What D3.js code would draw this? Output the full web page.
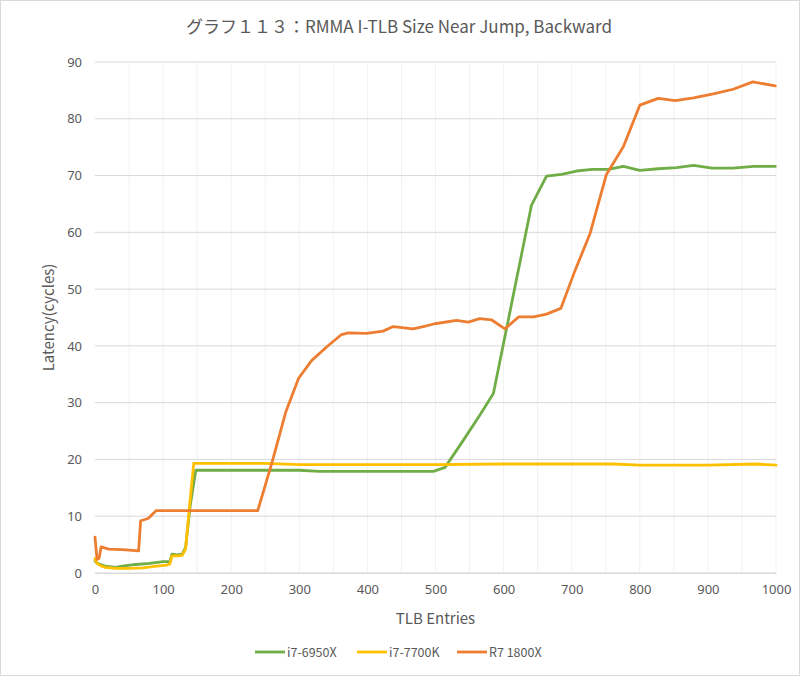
<!DOCTYPE html>
<html>
<head>
<meta charset="utf-8">
<script src="https://cdn.jsdelivr.net/npm/d3@7"></script>
<style>
  body { margin: 0; background: #fff; }
  text { font-family: "Noto Sans CJK JP", "Noto Sans", sans-serif; fill: #595959; }
</style>
</head>
<body>
<script>
// TLB entries / latency (cycles)
const seriesNames = ["i7-6950X", "i7-7700K", "R7 1800X"];
const seriesColors = ["#70ad47", "#ffc000", "#ed7d31"];

const i7_6950X_x = [0, 5, 15, 30, 40, 60, 80, 100, 110, 113, 120, 128, 133, 140, 148, 200, 300, 330, 497, 514, 541, 565, 585, 641, 663, 685, 707, 730, 754, 776, 800, 827, 854, 879, 906, 937, 967, 999];
const i7_6950X_y = [2.1, 1.6, 1.2, 1.0, 1.2, 1.5, 1.7, 2.0, 2.0, 3.3, 3.2, 3.3, 4.5, 12, 18.1, 18.1, 18.1, 17.9, 17.9, 18.6, 23.4, 27.8, 31.6, 64.8, 69.9, 70.2, 70.8, 71.1, 71.1, 71.6, 70.9, 71.2, 71.4, 71.8, 71.3, 71.3, 71.6, 71.6];

const i7_7700K_x = [0, 3, 8, 15, 30, 50, 70, 90, 105, 110, 113, 120, 128, 133, 139, 145, 200, 250, 300, 500, 600, 700, 760, 800, 900, 970, 1000];
const i7_7700K_y = [2.5, 1.7, 1.3, 1.0, 0.8, 0.8, 0.9, 1.2, 1.4, 1.6, 3.0, 3.0, 3.1, 4.2, 12, 19.3, 19.3, 19.3, 19.1, 19.1, 19.2, 19.2, 19.2, 19.0, 19.0, 19.2, 19.0];

const r7_1800X_x = [0, 3, 6, 9, 20, 40, 64, 67, 78, 90, 150, 239, 260, 280, 299, 318, 340, 362, 372, 399, 423, 438, 467, 482, 499, 531, 548, 565, 582, 602, 622, 644, 663, 684, 705, 727, 751, 776, 800, 827, 852, 879, 908, 937, 966, 999];
const r7_1800X_y = [6.3, 2.4, 2.6, 4.6, 4.2, 4.1, 3.9, 9.2, 9.6, 11.0, 11.0, 11.0, 19.5, 28.3, 34.3, 37.4, 39.8, 42.0, 42.3, 42.2, 42.6, 43.4, 43.0, 43.4, 43.9, 44.5, 44.2, 44.8, 44.6, 43.0, 45.1, 45.1, 45.6, 46.6, 53.3, 59.8, 70.2, 75.1, 82.4, 83.6, 83.2, 83.7, 84.4, 85.2, 86.5, 85.8];

const xTicks = [0, 100, 200, 300, 400, 500, 600, 700, 800, 900, 1000];
const xMinor = [50, 150, 250, 350, 450, 550, 650, 750, 850, 950];
const yTicks = [0, 10, 20, 30, 40, 50, 60, 70, 80, 90];

const width = 800, height = 676;
const plotLeft = 95, plotRight = 776, plotTop = 62, plotBottom = 573;

var svg = d3.select("body").append("svg")
            .attr("width", width)
            .attr("height", height);

svg.append("rect")
   .attr("x", 0.5).attr("y", 0.5)
   .attr("width", width - 1).attr("height", height - 1)
   .attr("fill", "#fff")
   .attr("stroke", "#d9d9d9");

var x = d3.scaleLinear().domain([0, 1000]).range([plotLeft, plotRight]);
var y = d3.scaleLinear().domain([0, 90]).range([plotBottom, plotTop]);

// faint vertical minor grid
svg.append("g").selectAll("line")
   .data(xMinor.concat(xTicks.slice(1)))
   .enter().append("line")
   .attr("x1", d => x(d)).attr("x2", d => x(d))
   .attr("y1", plotTop).attr("y2", plotBottom)
   .attr("stroke", "#f2f2f2");

// horizontal grid
svg.append("g").selectAll("line")
   .data(yTicks)
   .enter().append("line")
   .attr("x1", plotLeft).attr("x2", plotRight)
   .attr("y1", d => y(d)).attr("y2", d => y(d))
   .attr("stroke", "#d9d9d9");

var xAxis = svg.append("g")
               .attr("transform", "translate(0," + plotBottom + ")")
               .call(d3.axisBottom(x).tickValues(xTicks).tickFormat(d3.format("d"))
                       .tickSize(0).tickPadding(12));
xAxis.select(".domain").attr("stroke", "#d9d9d9");
xAxis.selectAll("text").attr("font-size", 13).attr("fill", "#595959")
     .style("font-family", "'Noto Sans', sans-serif");

var yAxis = svg.append("g")
               .attr("transform", "translate(" + plotLeft + ",0)")
               .call(d3.axisLeft(y).tickValues(yTicks).tickSize(0).tickPadding(13));
yAxis.select(".domain").remove();
yAxis.selectAll("text").attr("font-size", 13).attr("fill", "#595959")
     .style("font-family", "'Noto Sans', sans-serif");

var series = [
  { xs: i7_6950X_x, ys: i7_6950X_y },
  { xs: i7_7700K_x, ys: i7_7700K_y },
  { xs: r7_1800X_x, ys: r7_1800X_y }
];

var line = d3.line()
             .x(d => x(d[0]))
             .y(d => y(d[1]));

svg.append("g").selectAll("path")
   .data(series)
   .enter().append("path")
   .attr("d", d => line(d.xs.map((v, i) => [v, d.ys[i]])))
   .attr("fill", "none")
   .attr("stroke", (d, i) => seriesColors[i])
   .attr("stroke-width", 2.8)
   .attr("stroke-linejoin", "round")
   .attr("stroke-linecap", "round");

// titles
svg.append("text")
   .attr("x", 399).attr("y", 33)
   .attr("text-anchor", "middle")
   .attr("font-size", 17)
   .text("グラフ１１３：RMMA I-TLB Size Near Jump, Backward");

svg.append("text")
   .attr("transform", "translate(54," + ((plotTop + plotBottom) / 2) + ") rotate(-90)")
   .attr("text-anchor", "middle")
   .attr("font-size", 15)
   .text("Latency(cycles)");

svg.append("text")
   .attr("x", (plotLeft + plotRight) / 2).attr("y", 624)
   .attr("text-anchor", "middle")
   .attr("font-size", 15)
   .text("TLB Entries");

// legend
var legendX = [255, 357, 457];
var legend = svg.append("g").selectAll("g")
                .data(seriesNames)
                .enter().append("g")
                .attr("transform", (d, i) => "translate(" + legendX[i] + ",652)");
legend.append("line")
      .attr("x1", 0).attr("x2", 30)
      .attr("stroke", (d, i) => seriesColors[i])
      .attr("stroke-width", 2.8);
legend.append("text")
      .attr("x", 32).attr("y", 4.5)
      .attr("font-size", 12.5)
      .text(d => d);
</script>
</body>
</html>
